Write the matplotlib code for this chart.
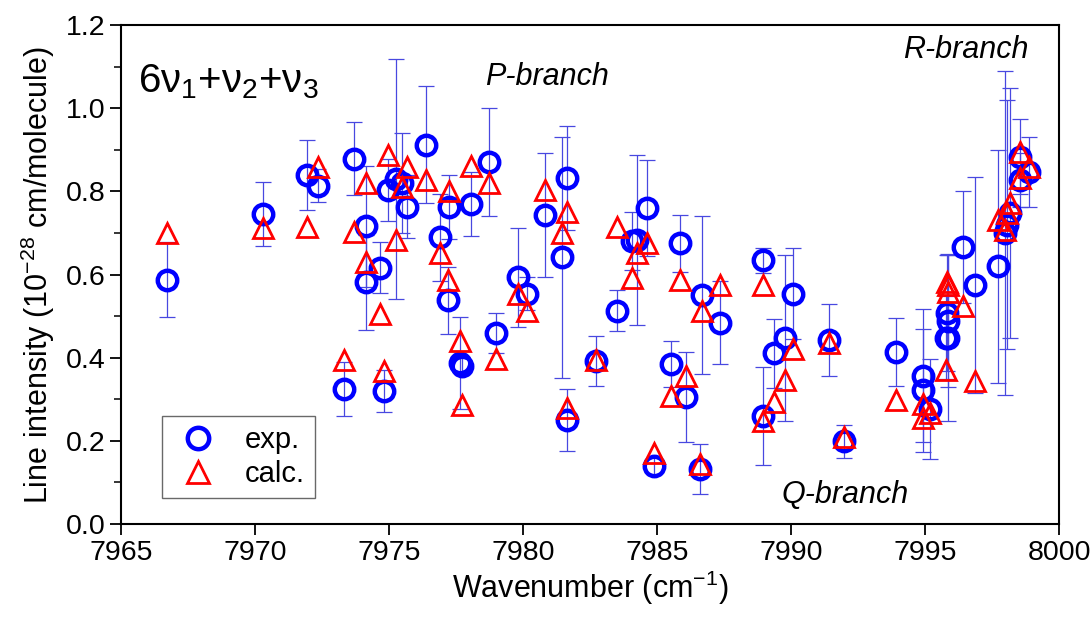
import numpy as np
import matplotlib
matplotlib.use('Agg')
import matplotlib.pyplot as plt
from matplotlib.ticker import MultipleLocator

plt.rcParams['font.family'] = ['Liberation Sans', 'DejaVu Sans']
plt.rcParams['mathtext.default'] = 'regular'

# wavenumber (cm-1), measured intensity, its uncertainty, calculated intensity
wavenumber = [7966.72, 7970.30, 7971.95, 7972.36, 7973.33, 7973.70, 7974.15, 7974.12,
              7974.67, 7974.82, 7974.94, 7975.27, 7975.46, 7975.65, 7976.39, 7976.88,
              7977.25, 7977.18, 7977.63, 7977.70, 7978.04, 7978.71, 7979.00, 7979.80,
              7980.13, 7980.80, 7981.44, 7981.62, 7981.62, 7982.70, 7983.49, 7984.05,
              7984.24, 7984.61, 7984.87, 7985.50, 7985.85, 7986.07, 7986.59, 7986.67,
              7987.34, 7988.94, 7988.94, 7989.35, 7989.77, 7990.07, 7991.41, 7991.97,
              7993.91, 7994.92, 7994.92, 7995.18, 7995.82, 7995.84, 7995.86, 7995.78,
              7996.42, 7996.87, 7997.72, 7997.98, 7998.17, 7998.05, 7998.55, 7998.88,
              7998.55]
exp_int = [0.588, 0.746, 0.840, 0.814, 0.324, 0.879, 0.716, 0.581,
           0.617, 0.320, 0.804, 0.830, 0.820, 0.763, 0.913, 0.690,
           0.763, 0.538, 0.387, 0.380, 0.770, 0.872, 0.460, 0.593,
           0.554, 0.743, 0.642, 0.833, 0.250, 0.392, 0.513, 0.680,
           0.683, 0.760, 0.140, 0.385, 0.675, 0.305, 0.133, 0.550,
           0.484, 0.634, 0.259, 0.411, 0.448, 0.554, 0.443, 0.199,
           0.414, 0.356, 0.322, 0.276, 0.508, 0.489, 0.448, 0.448,
           0.666, 0.576, 0.620, 0.700, 0.748, 0.720, 0.884, 0.847,
           0.828]
exp_err = [0.090, 0.077, 0.085, 0.040, 0.065, 0.088, 0.145, 0.115,
           0.062, 0.050, 0.075, 0.290, 0.120, 0.076, 0.140, 0.105,
           0.077, 0.080, 0.110, 0.020, 0.077, 0.130, 0.048, 0.120,
           0.040, 0.150, 0.290, 0.125, 0.075, 0.060, 0.050, 0.070,
           0.205, 0.115, 0.020, 0.055, 0.068, 0.108, 0.060, 0.190,
           0.100, 0.030, 0.118, 0.083, 0.200, 0.110, 0.087, 0.040,
           0.082, 0.160, 0.148, 0.120, 0.140, 0.160, 0.200, 0.100,
           0.134, 0.260, 0.280, 0.390, 0.300, 0.300, 0.090, 0.085,
           0.065]
calc_int = [0.700, 0.712, 0.714, 0.860, 0.395, 0.702, 0.821, 0.630,
            0.506, 0.368, 0.889, 0.683, 0.811, 0.860, 0.828, 0.651,
            0.800, 0.586, 0.440, 0.286, 0.862, 0.821, 0.397, 0.554,
            0.513, 0.804, 0.700, 0.750, 0.280, 0.395, 0.714, 0.591,
            0.651, 0.675, 0.170, 0.308, 0.588, 0.356, 0.143, 0.513,
            0.576, 0.574, 0.247, 0.293, 0.346, 0.420, 0.436, 0.210,
            0.298, 0.288, 0.254, 0.267, 0.581, 0.574, 0.557, 0.370,
            0.525, 0.344, 0.731, 0.707, 0.772, 0.748, 0.896, 0.860,
            0.833]

fig = plt.figure(figsize=(10.91, 6.17), dpi=100)
ax = fig.add_axes([0.111, 0.151, 0.860, 0.808])

ax.errorbar(wavenumber, exp_int, yerr=exp_err, fmt='none', ecolor='#4848e0',
            elinewidth=0.9, capsize=6, capthick=0.9, zorder=1)
ax.plot(wavenumber, exp_int, 'o', ms=14, mfc='none', mec='#0000ff', mew=3.2,
        label='exp.', zorder=2)
ax.plot(wavenumber, calc_int, '^', ms=14, mfc='none', mec='#ff0000', mew=2.0,
        label='calc.', zorder=3)

ax.set_xlim(7965, 8000)
ax.set_ylim(0.0, 1.2)
ax.xaxis.set_major_locator(MultipleLocator(5))
ax.yaxis.set_major_locator(MultipleLocator(0.2))
ax.yaxis.set_minor_locator(MultipleLocator(0.1))
ax.yaxis.set_major_formatter(plt.FormatStrFormatter('%.1f'))
ax.tick_params(axis='both', which='major', direction='out', length=8, width=1.3,
               labelsize=20.5)
ax.tick_params(axis='y', which='minor', direction='out', length=5, width=1.1)
for s in ax.spines.values():
    s.set_linewidth(1.5)

ax.set_xlabel('Wavenumber (cm$^{-1}$)', fontsize=22, labelpad=2)
ax.set_ylabel('Line intensity (10$^{-28}$ cm/molecule)', fontsize=22, labelpad=6)

ax.text(0.018, 0.925, '6ν$_1$+ν$_2$+ν$_3$', transform=ax.transAxes, fontsize=29,
        ha='left', va='top')
ax.text(7980.9, 1.075, 'P-branch', fontsize=22, style='italic', ha='center', va='center')
ax.text(7996.5, 1.14, 'R-branch', fontsize=22, style='italic', ha='center', va='center')
ax.text(7992.0, 0.07, 'Q-branch', fontsize=22, style='italic', ha='center', va='center')

leg = ax.legend(loc='lower left', bbox_to_anchor=(0.028, 0.022), fontsize=21,
                frameon=True, fancybox=False, edgecolor='#444444',
                handletextpad=0.7, borderpad=0.35, labelspacing=0.2,
                handlelength=1.8, markerscale=1.1)
leg.get_frame().set_linewidth(1.0)

fig.savefig('out.png', dpi=100)
